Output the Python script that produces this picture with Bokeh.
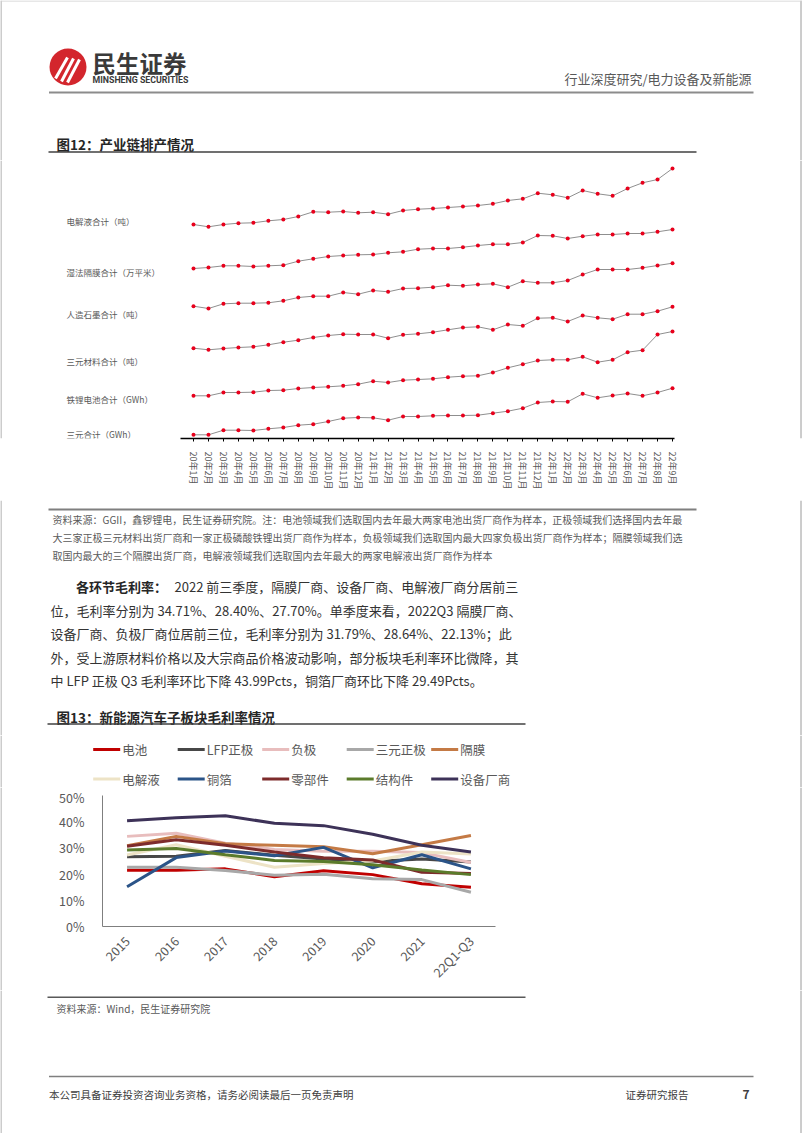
import math
from bokeh.plotting import figure
from bokeh.models import (Range1d, FixedTicker, LinearAxis, FactorRange, PrintfTickFormatter)
from bokeh.layouts import column, row
from bokeh.core.properties import value
from bokeh.embed import file_html
from bokeh.resources import INLINE

FONT = "Noto Sans CJK SC"

# ---------------- Data: 图12 产业链排产情况 (relative index, first month = 100) ----------------
months12 = ["20年1月", "20年2月", "20年3月", "20年4月", "20年5月", "20年6月", "20年7月", "20年8月",
            "20年9月", "20年10月", "20年11月", "20年12月", "21年1月", "21年2月", "21年3月", "21年4月",
            "21年5月", "21年6月", "21年7月", "21年8月", "21年9月", "21年10月", "21年11月", "21年12月",
            "22年1月", "22年2月", "22年3月", "22年4月", "22年5月", "22年6月", "22年7月", "22年8月", "22年9月"]
names12 = ["电解液合计（吨）", "湿法隔膜合计（万平米）", "人造石墨合计（吨）",
           "三元材料合计（吨）", "铁锂电池合计（GWh）", "三元合计（GWh）"]
electrolyte = [100, 97.7, 100, 101.3, 101.7, 103.7, 105, 108, 112.7, 112.3, 113, 111.7, 112.3, 110.3,
               114, 115.3, 116, 117, 118, 119, 120.7, 124, 125.7, 131.3, 129.7, 126.7, 134, 130.7,
               128.7, 136, 141.7, 145, 156]
separator = [100, 101, 102.7, 102.7, 102, 102.7, 103.3, 107.3, 109.7, 112, 113, 113.7, 114, 115.7,
             116.7, 119.3, 120, 120, 121.3, 123, 124.3, 124.3, 126, 133, 132.7, 130, 132.3, 134, 134,
             135, 135, 136.7, 139]
graphite = [100, 97.7, 102.4, 103, 103, 103.4, 105.4, 108.7, 110, 110, 113.7, 112, 115.7, 114.4,
            117.7, 118, 119, 121, 120.4, 121.7, 122.4, 119, 125, 123.4, 123.4, 125.7, 131.7, 136.7,
            136.7, 136.7, 138.4, 140.7, 143]
ncm_material = [100, 98.4, 99.7, 100.7, 101.4, 103.4, 106, 108, 110.7, 112.7, 114, 113.7, 113.7, 110,
                113.4, 114.4, 116, 118.4, 120.7, 121.4, 118.4, 123.7, 122.4, 130, 130.4, 126.7, 132.7,
                130.4, 129, 134, 134, 137, 141.4]
lfp_battery = [100, 100, 103.3, 103.3, 103.6, 105.3, 105.6, 107.3, 108.3, 109, 110, 111.6, 114.6,
               113.3, 115.6, 116.3, 117, 118.6, 119.6, 120, 123.3, 128, 131.6, 135.3, 136, 136, 139,
               133.6, 136, 143.6, 145.6, 161.3, 164.3]
ncm_battery = [100, 100, 104.6, 104.6, 104.3, 106, 107.3, 109.6, 110.6, 113.3, 116.6, 117.3, 117,
               114.6, 118.3, 118.3, 119, 119.3, 119.3, 119.6, 121.6, 123.6, 126.6, 132.3, 133.3, 133,
               141, 137, 139.3, 141.3, 139, 142.3, 146.6]
series12 = [electrolyte, separator, graphite, ncm_material, lfp_battery, ncm_battery]

# ---------------- Data: 图13 新能源汽车子板块毛利率 (%) ----------------
years13 = ["2015", "2016", "2017", "2018", "2019", "2020", "2021", "22Q1-Q3"]
names13 = ["电池", "LFP正极", "负极", "三元正极", "隔膜", "电解液", "铜箔", "零部件", "结构件", "设备厂商"]
battery = [21.5, 21.5, 22.0, 19.0, 21.3, 19.8, 16.3, 15.0]
lfp_cathode = [26.6, 26.8, 29.0, 27.2, 25.8, 24.8, 25.8, 24.6]
anode = [34.4, 35.6, 31.8, 29.4, 28.7, 28.7, 28.2, 24.4]
ncm_cathode = [22.6, 22.6, 21.4, 19.6, 19.9, 18.2, 17.9, 13.1]
separator_gm = [30.8, 34.4, 31.6, 31.0, 30.4, 27.8, 31.2, 34.71]
electrolyte_gm = [27.3, 31.2, 26.8, 22.6, 24.0, 25.0, 28.4, 27.70]
copper_foil = [15.2, 26.3, 28.8, 27.0, 30.2, 22.4, 27.4, 22.0]
components = [30.6, 33.1, 31.0, 28.4, 26.2, 25.4, 20.7, 20.2]
structural = [29.2, 29.8, 27.4, 25.2, 24.8, 23.6, 21.6, 19.8]
equipment = [40.4, 41.5, 42.3, 39.4, 38.5, 35.2, 31.0, 28.40]
series13 = [battery, lfp_cathode, anode, ncm_cathode, separator_gm, electrolyte_gm,
            copper_foil, components, structural, equipment]
colors13 = ["#C00000", "#474747", "#E8BDBD", "#A8A8A8", "#C47A45", "#EDE3C6",
            "#2B5488", "#7D2B2B", "#5B7B2B", "#3D3258"]
yticks13 = [0, 10, 20, 30, 40, 50]

# ---------------- Page texts ----------------
header_right = "行业深度研究/电力设备及新能源"
title12 = "图12：产业链排产情况"
notes12 = ["资料来源：GGII，鑫锣锂电，民生证券研究院。注：电池领域我们选取国内去年最大两家电池出货厂商作为样本，正极领域我们选择国内去年最",
           "大三家正极三元材料出货厂商和一家正极磷酸铁锂出货厂商作为样本，负极领域我们选取国内最大四家负极出货厂商作为样本；隔膜领域我们选",
           "取国内最大的三个隔膜出货厂商，电解液领域我们选取国内去年最大的两家电解液出货厂商作为样本"]
para_head = "各环节毛利率："
para_lines = ["2022 前三季度，隔膜厂商、设备厂商、电解液厂商分居前三",
              "位，毛利率分别为 34.71%、28.40%、27.70%。单季度来看，2022Q3 隔膜厂商、",
              "设备厂商、负极厂商位居前三位，毛利率分别为 31.79%、28.64%、22.13%；此",
              "外，受上游原材料价格以及大宗商品价格波动影响，部分板块毛利率环比微降，其",
              "中 LFP 正极 Q3 毛利率环比下降 43.99Pcts，铜箔厂商环比下降 29.49Pcts。"]
title13 = "图13：新能源汽车子板块毛利率情况"
source13 = "资料来源：Wind，民生证券研究院"
footer_left = "本公司具备证券投资咨询业务资格，请务必阅读最后一页免责声明"
footer_mid = "证券研究报告"
page_no = "7"

BORDER = "#9a9a9a"
COMMON = dict(toolbar_location=None, output_backend="svg", outline_line_color=None,
              background_fill_color="white", border_fill_color="white", frame_align=False)


def deco(x0, x1, y0, y1):
    p = figure(width=int(x1 - x0), height=int(y1 - y0), x_range=Range1d(x0, x1),
               y_range=Range1d(y1, y0), x_axis_type=None, y_axis_type=None,
               min_border=0, **COMMON)
    borders(p, x0, x1, y0, y1)
    return p


def borders(p, x0, x1, y0, y1):
    if x0 <= 0:
        p.segment(x0=[0.5], y0=[y0], x1=[0.5], y1=[y1], line_color=BORDER, line_width=1)
    if x1 >= 801:
        p.segment(x0=[800.5], y0=[y0], x1=[800.5], y1=[y1], line_color=BORDER, line_width=1)


def txt(p, x, y, s, size, color="#404040", bold=False, align="left", font=FONT):
    p.text(x=[x], y=[y], text=[s], text_font=value(font), text_font_size=value(f"{size}px"),
           text_color=color, text_align=align, text_baseline="middle",
           text_font_style="bold" if bold else "normal")


def hline(p, x0, x1, y, color, w):
    p.segment(x0=[x0], y0=[y], x1=[x1], y1=[y], line_color=color, line_width=w)


# ---------------- Top: header + title 12 ----------------
top = deco(0, 802, 0, 160)
hline(top, 0, 802, 0.5, "#d0d0d0", 1)
top.scatter(x=[67.5], y=[66.5], size=37, marker="circle", fill_color="#D3262D", line_color=None)
top.segment(x0=[55, 61, 67], y0=[78, 81, 82], x1=[67, 73, 79], y1=[57, 58, 59],
            line_color="white", line_width=3)
txt(top, 92, 62, "民生证券", 23.5, color="#3a3a3a", bold=True)
txt(top, 92, 79.5, "MINSHENG SECURITIES", 8.8, color="#3a3a3a", bold=True, font="Roboto")
txt(top, 751, 78, header_right, 13, color="#595959", align="right")
hline(top, 48.5, 753, 92, "#8c8c8c", 2)
txt(top, 56, 143.5, title12, 13.5, color="#262626", bold=True)
hline(top, 48, 696, 151.5, "#404040", 1.5)

# ---------------- Chart 12 (frame spans full page width) ----------------
FR_T, FR_B = 160, 438
PX_FIRST, PX_LAST = 193, 672
AXIS_L, AXIS_R = 180, 674
SERIES_BASE_Y = [224, 268, 305.7, 347.7, 395.3, 434.3]
LABEL_Y = [220, 271.7, 313.3, 360, 398.7, 433.3]
n12 = len(months12)
step = (PX_LAST - PX_FIRST) / (n12 - 1)
p12 = figure(width=802, height=340, x_range=Range1d(0, 802), y_range=Range1d(FR_B, FR_T),
             x_axis_type=None, y_axis_type=None, min_border_left=0, min_border_right=0,
             min_border_top=0, min_border_bottom=500 - FR_B, **COMMON)
p12.extra_x_ranges = {"idx": Range1d(-PX_FIRST / step, (n12 - 1) + (802 - PX_LAST) / step)}
yr = {}
for k, base in enumerate(SERIES_BASE_Y):
    s = 100 - (FR_B - base)
    yr[f"s{k}"] = Range1d(s, s + (FR_B - FR_T))
p12.extra_y_ranges = yr
xs = list(range(n12))
for k, vals in enumerate(series12):
    p12.line(x=xs, y=vals, x_range_name="idx", y_range_name=f"s{k}", line_color="#8f8f8f", line_width=1)
    p12.scatter(x=xs, y=vals, x_range_name="idx", y_range_name=f"s{k}", size=4,
                fill_color="#E8001C", line_color=None)
p12.text(x=[66] * len(names12), y=LABEL_Y, text=names12, text_font=value(FONT),
         text_font_size=value("8.5px"), text_color="#595959", text_baseline="middle")
ax12 = LinearAxis(x_range_name="idx", ticker=FixedTicker(ticks=xs),
                  major_label_overrides={i: m for i, m in enumerate(months12)},
                  bounds=((AXIS_L - PX_FIRST) / step, (n12 - 1) + (AXIS_R - PX_LAST) / step),
                  axis_line_color="black", axis_line_width=1.5, major_tick_line_color="black",
                  major_tick_out=3, major_tick_in=0, minor_tick_line_color=None,
                  major_label_orientation=-math.pi / 2, major_label_standoff=10,
                  major_label_text_font_size="9px", major_label_text_color="#595959",
                  major_label_text_font=FONT)
p12.add_layout(ax12, "below")
borders(p12, 0, 802, FR_T, FR_B)

# ---------------- Middle: notes, paragraph, title 13 ----------------
mid = deco(0, 802, 500, 735)
hline(mid, 48, 696, 509, "#7f7f7f", 2)
for i, line in enumerate(notes12):
    txt(mid, 52, 519 + 18 * i, line, 10, color="#595959")
txt(mid, 75.5, 586, para_head, 13, color="#262626", bold=True)
for i, line in enumerate(para_lines):
    txt(mid, 174 if i == 0 else 50, 586 + 23.5 * i, line, 13, color="#333333")
txt(mid, 56, 716, title13, 13.5, color="#262626", bold=True)
hline(mid, 47, 525, 723.5, "#404040", 1.5)

# ---------------- Legend band for chart 13 ----------------
LEG_X0, LEG_DX, LEG_ROWS_Y, LEG_LEN = 92.7, 84.5, [749, 778.5], 27
leg = deco(0, 802, 735, 787)
for i, (name, col) in enumerate(zip(names13, colors13)):
    cx = LEG_X0 + LEG_DX * (i % 5)
    cy = LEG_ROWS_Y[i // 5]
    leg.segment(x0=[cx], y0=[cy], x1=[cx + LEG_LEN], y1=[cy], line_color=col, line_width=3)
    txt(leg, cx + LEG_LEN + 2, cy, name, 12.5, color="#595959")

# ---------------- Chart 13 ----------------
p13 = figure(width=490, height=203, x_range=FactorRange(factors=years13), y_range=Range1d(0, 50),
             min_border_left=62, min_border_right=35, min_border_top=8, min_border_bottom=62,
             **COMMON)
p13.grid.visible = False
for vals, col in zip(series13, colors13):
    p13.line(x=years13, y=vals, line_color=col, line_width=3)
p13.yaxis.ticker = FixedTicker(ticks=yticks13)
p13.yaxis.formatter = PrintfTickFormatter(format="%d%%")
for a in (p13.xaxis[0], p13.yaxis[0]):
    a.axis_line_color = "#7f7f7f"
    a.axis_line_width = 1
    a.major_tick_line_color = None
    a.minor_tick_line_color = None
    a.major_label_text_font = FONT
    a.major_label_text_font_size = "12.5px"
    a.major_label_text_color = "#595959"
p13.yaxis.major_label_standoff = 12
p13.xaxis.major_label_orientation = math.pi / 4
p13.xaxis.major_label_standoff = 6

left13 = deco(0, 40, 787, 990)
right13 = deco(530, 802, 787, 990)

# ---------------- Bottom: source + footer ----------------
bot = deco(0, 802, 990, 1133)
hline(bot, 47, 525, 996.7, "#595959", 1.5)
txt(bot, 56, 1008, source13, 10, color="#595959")
hline(bot, 48.5, 753, 1076, "#7f7f7f", 1.5)
txt(bot, 48.5, 1094, footer_left, 10.5, color="#404040")
txt(bot, 625, 1094, footer_mid, 10.5, color="#404040")
txt(bot, 742, 1094, page_no, 12, color="#404040", bold=True)

page = column(top, p12, mid, leg, row(left13, p13, right13), bot)
open("out.html", "w").write(file_html(page, INLINE))
